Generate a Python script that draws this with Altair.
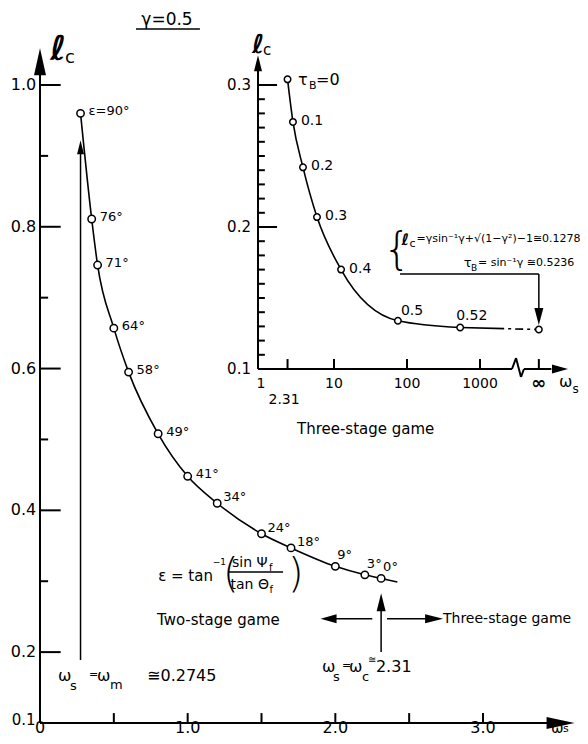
import altair as alt
import pandas as pd

FONT = "DejaVu Sans"

# ---------------- data ----------------
gamma_text = "γ=0.5"

# main curve (two-stage game), ε labels, ω_s and ℓ_c values
main_eps = [90, 76, 71, 64, 58, 49, 41, 34, 24, 18, 9, 3, 0]
main_ws = [0.2745, 0.35, 0.39, 0.50, 0.60, 0.80, 1.00, 1.20, 1.50, 1.70, 2.00, 2.20, 2.31]
main_lc = [0.960, 0.811, 0.746, 0.657, 0.595, 0.508, 0.448, 0.410, 0.367, 0.347, 0.321, 0.309, 0.304]
main_tail_ws = [2.42]
main_tail_lc = [0.299]

main_yticks_major = [0.2, 0.4, 0.6, 0.8, 1.0]
main_yticks_minor = [0.3, 0.5, 0.7, 0.9]
main_ylabels = ["0.2", "0.4", "0.6", "0.8", "1.0"]
main_xticks = [0.5, 1.0, 1.5, 2.0, 2.5, 3.0]
main_xlabel_pos = [0, 1, 2, 3]
main_xlabels = ["0", "1.0", "2.0", "3.0"]

# inset (three-stage game)
INF = 6400  # stand-in position of ω_s = ∞ beyond the axis break
inset_tau = ["0", "0.1", "0.2", "0.3", "0.4", "0.5", "0.52", "∞"]
inset_ws = [2.31, 2.74, 3.76, 5.85, 12.5, 75, 535, INF]
inset_lc = [0.304, 0.274, 0.242, 0.207, 0.170, 0.134, 0.1292, 0.1278]
inset_yticks_major = [0.1, 0.2, 0.3]
inset_ylabels = ["0.1", "0.2", "0.3"]
inset_yticks_minor = [0.11, 0.12, 0.13, 0.14, 0.15, 0.16, 0.17, 0.18, 0.19,
                      0.21, 0.22, 0.23, 0.24, 0.25, 0.26, 0.27, 0.28, 0.29]
inset_xticks = [2.31, 10, 100, 1000, INF]
inset_xlabel_pos = [1, 10, 100, 1000, INF]
inset_xlabels = ["1", "10", "100", "1000", "∞"]

# ---------------- scales ----------------
MX = alt.Scale(domain=[0, 3], range=[32, 475], zero=False, nice=False)
MY = alt.Scale(domain=[0.1, 1.0], range=[715, 77], zero=False, nice=False)
IX = alt.Scale(type="log", domain=[1, 1000], range=[253, 472], nice=False)
IY = alt.Scale(domain=[0.1, 0.3], range=[361, 77], zero=False, nice=False)
MAIN = (MX, MY)
INSET = (IX, IY)


def enc(scales, **extra):
    sx, sy = scales
    d = dict(x=alt.X("x:Q", scale=sx, axis=None), y=alt.Y("y:Q", scale=sy, axis=None))
    d.update(extra)
    return d


def text_layer(scales, rows, size, align="left", baseline="middle", weight="normal", dx=0, dy=0):
    df = pd.DataFrame(rows, columns=["x", "y", "t"])
    return alt.Chart(df).mark_text(font=FONT, fontSize=size, align=align, baseline=baseline,
                                   fontWeight=weight, dx=dx, dy=dy, color="black").encode(
        **enc(scales, text="t:N"))


def rule_layer(scales, rows, width=1.5):
    df = pd.DataFrame(rows, columns=["x", "y", "x2", "y2"])
    return alt.Chart(df).mark_rule(color="black", strokeWidth=width).encode(
        **enc(scales, x2="x2", y2="y2"))


def head_layer(scales, rows, length, half, angle):
    w = half / (length / 2.0)
    path = f"M0,0L{w:.3f},2L{-w:.3f},2Z"
    df = pd.DataFrame(rows, columns=["x", "y"])
    return alt.Chart(df).mark_point(shape=path, size=length ** 2, angle=angle, filled=True,
                                    color="black", opacity=1, strokeWidth=0).encode(**enc(scales))


def circles(scales, df, size):
    return alt.Chart(df).mark_point(shape="circle", size=size, filled=True, fill="white",
                                    stroke="black", strokeWidth=1.5, opacity=1).encode(**enc(scales))


def lbl(df, size, dx, dy, scales):
    return alt.Chart(df).mark_text(font=FONT, fontSize=size, align="left", baseline="middle",
                                   dx=dx, dy=dy, color="black").encode(**enc(scales, text="t:N"))


layers = []

# ---------------- main plot ----------------
main_df = pd.DataFrame({"x": main_ws, "y": main_lc,
                        "t": ["ε=90°"] + [f"{e}°" for e in main_eps[1:]]})
curve_df = pd.concat([main_df[["x", "y"]],
                      pd.DataFrame({"x": main_tail_ws, "y": main_tail_lc})], ignore_index=True)

# axes
main_rules = [
    (0, 0.1, 0, 1.02),          # y axis
    (0, 0.1, 3.44, 0.1),        # x axis
]
main_rules += [(0, v, 0.14, v) for v in main_yticks_major]
main_rules += [(0, v, 0.055, v) for v in main_yticks_minor]
main_rules += [(v, 0.1, v, 0.114) for v in main_xticks]
layers.append(rule_layer(MAIN, main_rules, width=2))

# annotation rules
ann_rules = [
    (0.2745, 0.189, 0.2745, 0.91),   # ω_m arrow
    (2.31, 0.2, 2.31, 0.27),         # ω_c arrow
    (1.95, 0.247, 2.25, 0.247),      # left arrow
    (2.35, 0.247, 2.70, 0.247),      # right arrow
    (0.65, 1.079, 1.083, 1.079),     # γ underline
    (1.273, 0.313, 1.646, 0.313),    # fraction bar
]
layers.append(rule_layer(MAIN, ann_rules, width=1.5))

layers.append(head_layer(MAIN, [(0, 1.052)], 27, 6, 0))
layers.append(head_layer(MAIN, [(3.62, 0.1)], 28, 6, 90))
layers.append(head_layer(MAIN, [(0.2745, 0.922)], 14, 3.5, 0))
layers.append(head_layer(MAIN, [(2.31, 0.283)], 18, 4.5, 0))
layers.append(head_layer(MAIN, [(1.90, 0.247)], 16, 4.5, 270))
layers.append(head_layer(MAIN, [(2.73, 0.247)], 18, 4.5, 90))

layers.append(alt.Chart(curve_df).mark_line(interpolate="monotone", color="black",
                                            strokeWidth=1.6).encode(**enc(MAIN)))
layers.append(circles(MAIN, main_df, 55))

# point labels
layers.append(lbl(main_df.iloc[0:7], 13, 8, -2, MAIN))
layers.append(lbl(main_df.iloc[7:10], 13, 6, -6, MAIN))
layers.append(lbl(main_df.iloc[10:13], 13, 2, -11, MAIN))

# tick labels
layers.append(text_layer(MAIN, [(-0.025, v, s) for v, s in zip(main_yticks_major, main_ylabels)], 16, align="right"))
layers.append(text_layer(MAIN, [(-0.03, 0.104, "0.1")], 15, align="right"))
layers.append(text_layer(MAIN, [(v, 0.093, s) for v, s in zip(main_xlabel_pos, main_xlabels)], 16, align="center"))

# axis titles and header
layers.append(text_layer(MAIN, [(0.86, 1.091, gamma_text)], 17, align="center"))
layers.append(text_layer(MAIN, [(0.122, 1.035, "ℓ")], 34, align="center", baseline="alphabetic", weight="bold"))
layers.append(text_layer(MAIN, [(0.169, 1.031, "c")], 18, baseline="alphabetic"))
layers.append(text_layer(MAIN, [(3.46, 0.093, "ω")], 15))
layers.append(text_layer(MAIN, [(3.542, 0.091, "s")], 11))

# ω_s = ω_m ≅ 0.2745
layers.append(text_layer(MAIN, [(0.122, 0.166, "ω"), (0.386, 0.166, "ω"), (0.725, 0.167, "≅0.2745")], 16))
layers.append(text_layer(MAIN, [(0.203, 0.152, "s"), (0.474, 0.153, "m")], 13))
layers.append(text_layer(MAIN, [(0.332, 0.168, "=")], 11))

# ω_s = ω_c ≅ 2.31
layers.append(text_layer(MAIN, [(1.910, 0.179, "ω"), (2.092, 0.179, "ω"), (2.275, 0.179, "2.31")], 16))
layers.append(text_layer(MAIN, [(1.984, 0.165, "s"), (2.18, 0.165, "c")], 13))
layers.append(text_layer(MAIN, [(2.045, 0.181, "=")], 11))
layers.append(text_layer(MAIN, [(2.222, 0.189, "≅")], 10))

# game labels
layers.append(text_layer(MAIN, [(0.792, 0.2453, "Two-stage  game")], 15))
layers.append(text_layer(MAIN, [(2.729, 0.247, "Three-stage game")], 14))

# ε = tan⁻¹(sinΨf / tanΘf)
layers.append(text_layer(MAIN, [(0.80, 0.307, "ε = tan")], 15))
layers.append(text_layer(MAIN, [(1.17, 0.327, "−1")], 9))
layers.append(text_layer(MAIN, [(1.24, 0.309, "(")], 40, weight="lighter"))
layers.append(text_layer(MAIN, [(1.68, 0.309, ")")], 40, weight="lighter"))
layers.append(text_layer(MAIN, [(1.30, 0.326, "sin Ψ"), (1.290, 0.2946, "tan Θ")], 14))
layers.append(text_layer(MAIN, [(1.55, 0.3186, "f"), (1.554, 0.2876, "f")], 10))

# ---------------- inset ----------------
inset_df = pd.DataFrame({"x": inset_ws, "y": inset_lc, "t": inset_tau})

inset_rules = [
    (0.91, 0.1, 0.91, 0.31),          # y axis
    (0.91, 0.1, 2744, 0.1),           # x axis before break
    (2744, 0.1, 3113, 0.1077),        # break zigzag
    (3113, 0.1077, 3646, 0.0944),
    (3646, 0.0944, 4005, 0.1),
    (4005, 0.1, 9500, 0.1),           # x axis after break
]
inset_rules += [(0.91, v, 1.66, v) for v in inset_yticks_major]
inset_rules += [(0.91, v, 1.13, v) for v in inset_yticks_minor]
inset_rules += [(v, 0.1, v, 0.107) for v in inset_xticks]
layers.append(rule_layer(INSET, inset_rules, width=2))

brace_rules = [
    (80.3, 0.1669, INF, 0.1669),
    (INF, 0.1669, INF, 0.142),
]
layers.append(rule_layer(INSET, brace_rules, width=1.5))

layers.append(head_layer(INSET, [(0.91, 0.321)], 16, 4, 0))
layers.append(head_layer(INSET, [(16040, 0.1)], 16, 4.5, 90))
layers.append(head_layer(INSET, [(INF, 0.131)], 17, 4.5, 180))

layers.append(alt.Chart(inset_df.iloc[0:7]).mark_line(interpolate="monotone", color="black",
                                                      strokeWidth=1.6).encode(**enc(INSET)))
layers.append(alt.Chart(inset_df.iloc[6:8]).mark_line(color="black", strokeWidth=1.6,
                                                      strokeDash=[44, 4, 3, 4, 8, 4, 3, 4]).encode(**enc(INSET)))
layers.append(circles(INSET, inset_df, 42))

layers.append(lbl(inset_df.iloc[1:5], 14, 8, -1, INSET))
layers.append(lbl(inset_df.iloc[5:6], 14, 3, -10, INSET))
layers.append(lbl(inset_df.iloc[6:7], 14, -4, -12, INSET))

# τB = 0
layers.append(text_layer(INSET, [(3.21, 0.3035, "τ"), (5.67, 0.3035, "=0")], 16))
layers.append(text_layer(INSET, [(4.54, 0.2993, "B")], 11))

# tick labels
layers.append(text_layer(INSET, [(0.729, v, s) for v, s in zip(inset_yticks_major, inset_ylabels)], 15, align="right"))
layers.append(text_layer(INSET, [(v, 0.0894, s) for v, s in zip(inset_xlabel_pos[:4], inset_xlabels[:4])], 14, align="center"))
layers.append(text_layer(INSET, [(INF, 0.0894, inset_xlabels[4])], 18, align="center", weight="bold"))
layers.append(text_layer(INSET, [(2.07, 0.0782, "2.31")], 14, align="center"))

# axis titles
layers.append(text_layer(INSET, [(0.91, 0.3225, "ℓ")], 26, align="center", baseline="alphabetic", weight="bold"))
layers.append(text_layer(INSET, [(1.065, 0.3211, "c")], 15, baseline="alphabetic"))
layers.append(text_layer(INSET, [(12090, 0.0908, "ω")], 16))
layers.append(text_layer(INSET, [(18500, 0.0862, "s")], 12))
layers.append(text_layer(INSET, [(3.11, 0.0577, "Three-stage game")], 15))

# brace annotation
layers.append(text_layer(INSET, [(73.0, 0.1831, "{")], 44, align="center", weight="lighter"))
layers.append(text_layer(INSET, [(84.0, 0.1873, "ℓ")], 16, baseline="alphabetic", weight="bold"))
layers.append(text_layer(INSET, [(108.0, 0.1859, "c")], 11, baseline="alphabetic"))
layers.append(text_layer(INSET, [(135.0, 0.1915, "=γsin⁻¹γ+√(1−γ²)−1≅0.1278")], 11))
layers.append(text_layer(INSET, [(600, 0.1746, "τ")], 13))
layers.append(text_layer(INSET, [(754, 0.1711, "B")], 9))
layers.append(text_layer(INSET, [(938, 0.1746, "= sin⁻¹γ ≅0.5236")], 11))

chart = alt.layer(*layers).resolve_scale(x="independent", y="independent").properties(
    width=572, height=728, padding=0, background="white",
    autosize=alt.AutoSizeParams(type="none"),
).configure_view(stroke=None)

chart.save("out.html", embed_options={"renderer": "svg", "actions": False})
